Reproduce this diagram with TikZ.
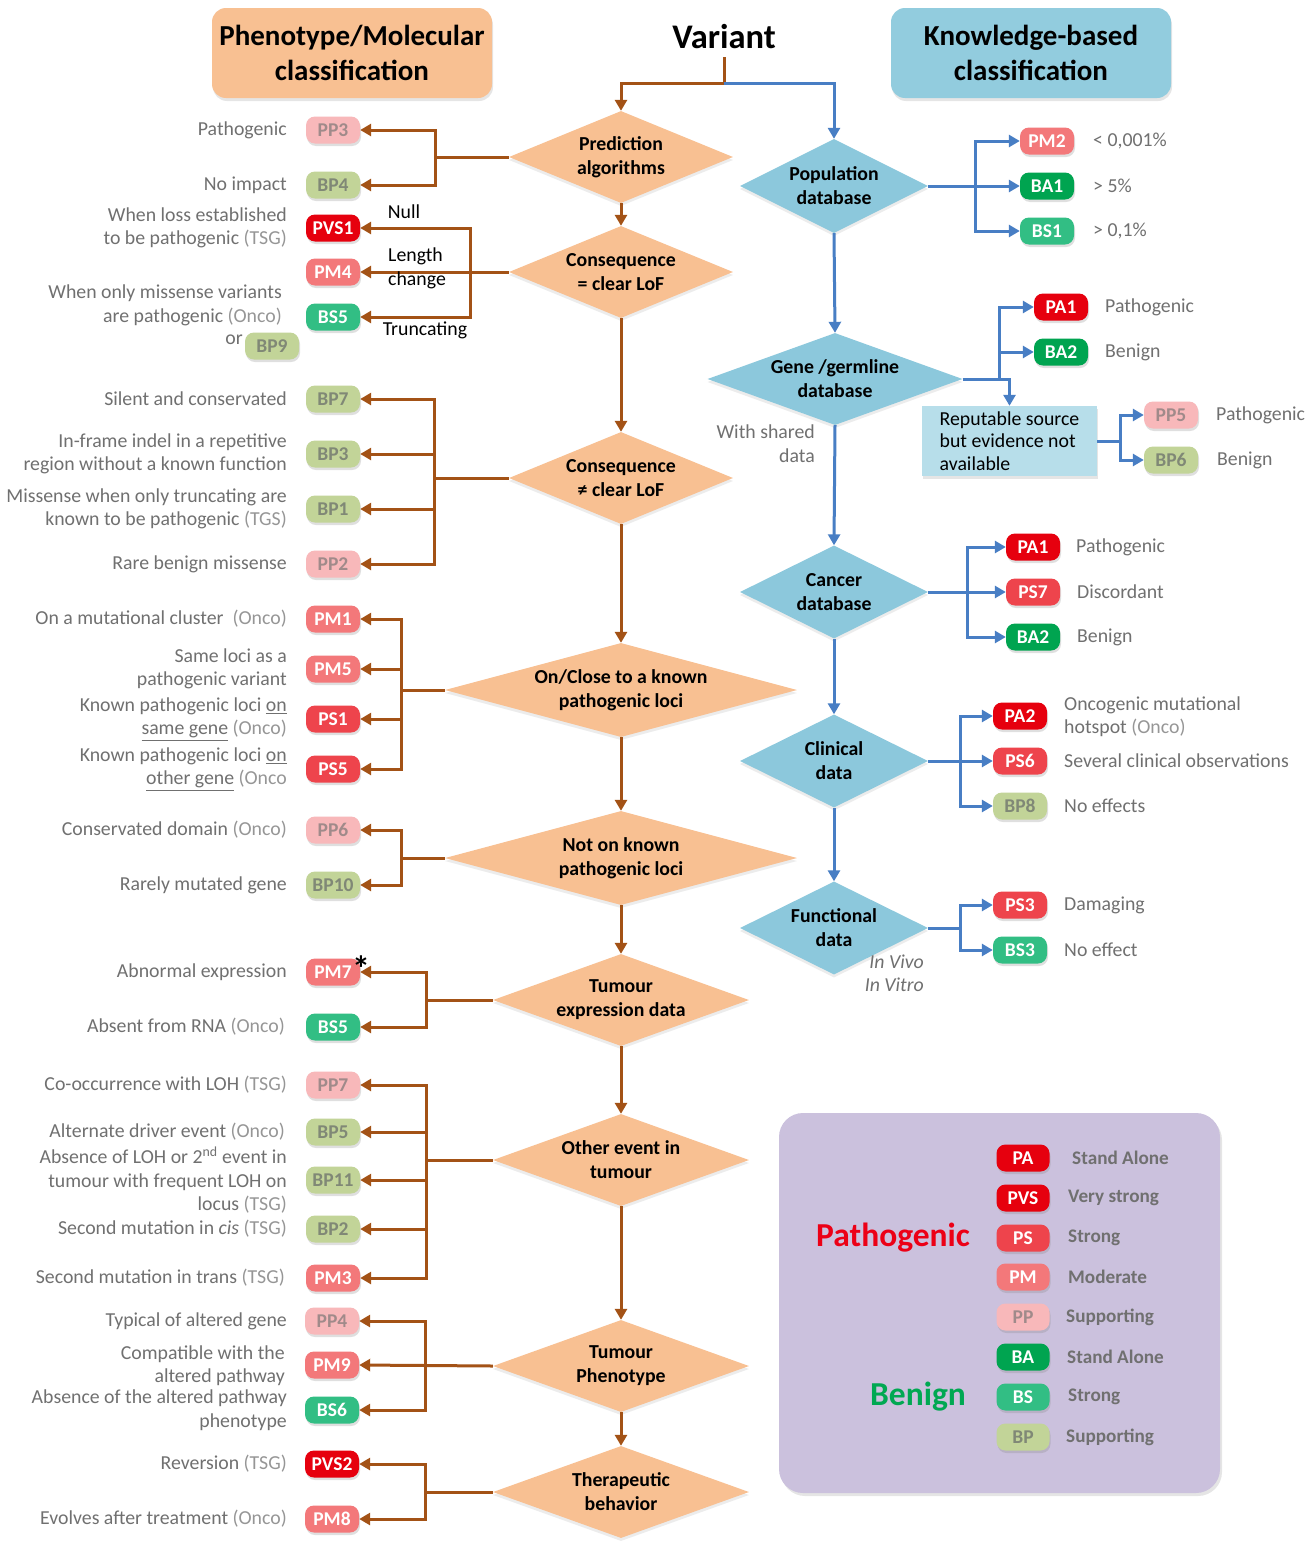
\documentclass[tikz,border=0pt]{standalone}
\usepackage{fontspec}
\setmainfont{Carlito}
\usetikzlibrary{shapes.geometric,arrows.meta,shadows}
\definecolor{orf}{RGB}{248,192,146}
\definecolor{orh}{RGB}{248,192,146}
\definecolor{brn}{RGB}{163,82,22}
\definecolor{blf}{RGB}{140,200,220}
\definecolor{blh}{RGB}{146,204,222}
\definecolor{bln}{RGB}{72,126,196}
\definecolor{repf}{RGB}{183,222,234}
\definecolor{lav}{RGB}{203,193,221}
\definecolor{cPA}{RGB}{230,0,14}
\definecolor{cPS}{RGB}{238,68,76}
\definecolor{cPM}{RGB}{243,120,122}
\definecolor{cPP}{RGB}{248,184,186}
\definecolor{cBA}{RGB}{0,164,80}
\definecolor{cBS}{RGB}{50,190,132}
\definecolor{cBP}{RGB}{194,212,152}
\definecolor{txg}{RGB}{112,112,112}
\definecolor{txl}{RGB}{150,150,150}
\definecolor{tpp}{RGB}{160,138,138}
\definecolor{tbp}{RGB}{128,136,118}
\definecolor{pgred}{RGB}{236,0,22}
\definecolor{bngreen}{RGB}{0,168,82}
\newcommand\lgt[1]{\textcolor{txl}{#1}}
\begin{document}
\begin{tikzpicture}[x=1pt,y=-1pt,
  lt/.style={font=\fontsize{19.8}{23.5}\selectfont, text=txg, anchor=east, align=right, inner sep=0pt},
  rt/.style={font=\fontsize{19.8}{23}\selectfont, text=txg, anchor=west, align=left, inner sep=0pt},
  badge/.style={rounded corners=9pt, minimum width=54pt, minimum height=27pt, inner sep=0pt,
     font=\bfseries\fontsize{19.5}{20}\selectfont, text=white,
     drop shadow={shadow xshift=1pt, shadow yshift=-2.5pt, opacity=0.25}},
  bPA/.style={badge, fill=cPA},
  bPS/.style={badge, fill=cPS},
  bPM/.style={badge, fill=cPM},
  bPP/.style={badge, fill=cPP, text=tpp},
  bBA/.style={badge, fill=cBA},
  bBS/.style={badge, fill=cBS},
  bBP/.style={badge, fill=cBP, text=tbp},
  odiam/.style={diamond, fill=orf, inner sep=0pt, drop shadow={shadow xshift=0pt, shadow yshift=-3pt, opacity=0.15}},
  bdiam/.style={diamond, fill=blf, inner sep=0pt, drop shadow={shadow xshift=0pt, shadow yshift=-3pt, opacity=0.15}},
  dtext/.style={font=\bfseries\fontsize{19.8}{24}\selectfont, align=center, inner sep=0pt},
  brl/.style={draw=brn, line width=3pt},
  bra/.style={brl, -{Triangle[length=11pt,width=12pt]}},
  bll/.style={draw=bln, line width=3pt},
  bla/.style={bll, -{Triangle[length=11pt,width=12pt]}},
  hdr/.style={rounded corners=14pt, minimum width=280pt, minimum height=90pt, inner sep=0pt, align=center,
     font=\bfseries\fontsize{29}{35}\selectfont, drop shadow={shadow xshift=1pt, shadow yshift=-3pt, opacity=0.2}},
]
\useasboundingbox (0,0) rectangle (1316,1542);
\fill[white] (0,0) rectangle (1316,1542);

% ---------- headers ----------
\node[hdr, fill=orh] (h1) at (352,53) {Phenotype/Molecular\\classification};
\node[hdr, fill=blh] (h2) at (1031,53) {Knowledge-based\\classification};
\node[font=\bfseries\fontsize{34.5}{40}\selectfont, inner sep=0pt, minimum height=40pt] (var) at (724,37) {Variant};
\coordinate (vj) at (724,83);

% ---------- orange diamonds ----------
\node[odiam, minimum width=224pt, minimum height=92pt] (d1) at (621,157) {};
\node[dtext] (d1t) at (d1) {Prediction\\algorithms};
\node[odiam, minimum width=224pt, minimum height=92pt] (d2) at (621,272) {};
\node[dtext] (d2t) at (d2) {Consequence\\= clear LoF};
\node[odiam, minimum width=224pt, minimum height=92pt] (d3) at (621,478) {};
\node[dtext] (d3t) at (d3) {Consequence\\≠ clear LoF};
\node[odiam, minimum width=352pt, minimum height=94pt] (d4) at (621,690) {};
\node[dtext] (d4t) at (d4) {On/Close to a known\\pathogenic loci};
\node[odiam, minimum width=352pt, minimum height=94pt] (d5) at (621,858) {};
\node[dtext] (d5t) at (d5) {Not on known\\pathogenic loci};
\node[odiam, minimum width=256pt, minimum height=92pt] (d6) at (621,1000) {};
\node[dtext] (d6t) at (d6) {Tumour\\expression data};
\node[odiam, minimum width=256pt, minimum height=92pt] (d7) at (621,1160) {};
\node[dtext] (d7t) at (d7) {Other event in\\tumour};
\node[odiam, minimum width=256pt, minimum height=92pt] (d8) at (621,1366) {};
\node[dtext] (d8t) at (d8) {Tumour\\Phenotype};
\node[odiam, minimum width=256pt, minimum height=92pt] (d9) at (621,1492) {};
\node[dtext] (d9t) at (d9) {Therapeutic\\behavior};

% ---------- blue diamonds ----------
\node[bdiam, minimum width=188pt, minimum height=94pt] (p1) at (834,186) {};
\node[dtext] (p1t) at (p1) {Population\\database};
\node[bdiam, minimum width=255pt, minimum height=92pt] (p2) at (835,379) {};
\node[dtext] (p2t) at (p2) {Gene /germline\\database};
\node[bdiam, minimum width=188pt, minimum height=93pt] (p3) at (834,592) {};
\node[dtext] (p3t) at (p3) {Cancer\\database};
\node[bdiam, minimum width=188pt, minimum height=93pt] (p4) at (834,761) {};
\node[dtext] (p4t) at (p4) {Clinical\\data};
\node[bdiam, minimum width=188pt, minimum height=93pt] (p5) at (834,928) {};
\node[dtext] (p5t) at (p5) {Functional\\data};

% ---------- main flow ----------
\draw[brl] (var.south) -- (vj);
\draw[bra] (vj) -| (d1.north);
\draw[bla] (vj) -| (p1.north);
\draw[bra] (d1.south) -- (d2.north);
\draw[bra] (d2.south) -- (d3.north);
\draw[bra] (d3.south) -- (d4.north);
\draw[bra] (d4.south) -- (d5.north);
\draw[bra] (d5.south) -- (d6.north);
\draw[bra] (d6.south) -- (d7.north);
\draw[bra] (d7.south) -- (d8.north);
\draw[bra] (d8.south) -- (d9.north);
\draw[bla] (p1.south) -- (p2.north);
\draw[bla] (p2.south) -- (p3.north);
\draw[bla] (p3.south) -- (p4.north);
\draw[bla] (p4.south) -- (p5.north);

% ---------- left badges ----------
\node[bPP] (pp3) at (333,130) {PP3};
\node[bBP] (bp4) at (333,185) {BP4};
\node[bPA] (pvs1) at (333,228) {PVS1};
\node[bPM] (pm4) at (333,272) {PM4};
\node[bBS] (bs5a) at (333,317) {BS5};
\node[bBP] (bp9) at (272,346) {BP9};
\node[bBP] (bp7) at (333,399) {BP7};
\node[bBP] (bp3) at (333,454) {BP3};
\node[bBP] (bp1) at (333,509) {BP1};
\node[bPP] (pp2) at (333,564) {PP2};
\node[bPM] (pm1) at (333,619) {PM1};
\node[bPM] (pm5) at (333,669) {PM5};
\node[bPS] (ps1) at (333,719) {PS1};
\node[bPS] (ps5) at (333,769) {PS5};
\node[bPP] (pp6) at (333,830) {PP6};
\node[bBP] (bp10) at (333,885) {BP10};
\node[bPM] (pm7) at (333,972) {PM7};
\node[bBS] (bs5b) at (333,1027) {BS5};
\node[bPP] (pp7) at (333,1085) {PP7};
\node[bBP] (bp5) at (333,1132) {BP5};
\node[bBP] (bp11) at (333,1180) {BP11};
\node[bBP] (bp2) at (333,1229) {BP2};
\node[bPM] (pm3) at (333,1278) {PM3};
\node[bPP] (pp4) at (332,1321) {PP4};
\node[bPM] (pm9) at (332,1365) {PM9};
\node[bBS] (bs6) at (332,1410) {BS6};
\node[bPA] (pvs2) at (332,1464) {PVS2};
\node[bPM] (pm8) at (332,1519) {PM8};
\node[font=\bfseries\fontsize{36}{36}\selectfont, inner sep=0pt] (ast) at (361,969) {*};

% ---------- left connectors ----------
\coordinate (j1) at (435,157);
\draw[brl] (d1.west) -- (j1);
\draw[bra] (j1) |- (pp3.east);
\draw[bra] (j1) |- (bp4.east);

\coordinate (j2) at (470,272);
\draw[bra] (d2.west) -- (pm4.east);
\draw[bra] (j2) |- (pvs1.east);
\draw[bra] (j2) |- (bs5a.east);

\coordinate (j3) at (434,478);
\draw[brl] (d3.west) -- (j3);
\foreach \b in {bp7,bp3,bp1,pp2} \draw[bra] (j3) |- (\b.east);

\coordinate (j4) at (401,690);
\draw[brl] (d4.west) -- (j4);
\foreach \b in {pm1,pm5,ps1,ps5} \draw[bra] (j4) |- (\b.east);

\coordinate (j5) at (401,858);
\draw[brl] (d5.west) -- (j5);
\foreach \b in {pp6,bp10} \draw[bra] (j5) |- (\b.east);

\coordinate (j6) at (426,1000);
\draw[brl] (d6.west) -- (j6);
\foreach \b in {pm7,bs5b} \draw[bra] (j6) |- (\b.east);

\coordinate (j7) at (426,1160);
\draw[brl] (d7.west) -- (j7);
\foreach \b in {pp7,bp5,bp11,bp2,pm3} \draw[bra] (j7) |- (\b.east);

\coordinate (j8) at (425,1366);
\draw[bra] (d8.west) -- (pm9.east);
\foreach \b in {pp4,bs6} \draw[bra] (j8) |- (\b.east);

\coordinate (j9) at (425,1492);
\draw[brl] (d9.west) -- (j9);
\foreach \b in {pvs2,pm8} \draw[bra] (j9) |- (\b.east);

% connector labels
\node[font=\fontsize{19.8}{23}\selectfont, inner sep=0pt] (lnull) at (404,212) {Null};
\node[font=\fontsize{19.8}{24.5}\selectfont, align=left, anchor=west, inner sep=0pt] (llen) at (388,268.5) {Length\\change};
\node[font=\fontsize{19.8}{23}\selectfont, inner sep=0pt] (ltrunc) at (425,330) {Truncating};

% ---------- left texts ----------
\node[lt] (t1) at (287,130) {Pathogenic};
\node[lt] (t2) at (287,185) {No impact};
\node[lt] (t3) at (287,228) {When loss established\\to be pathogenic \lgt{(TSG)}};
\node[lt] (t4) at (282,305.5) {When only missense variants\\are pathogenic \lgt{(Onco)}};
\node[lt] (t5) at (243,340) {or};
\node[lt] (t6) at (287,399) {Silent and conservated};
\node[lt] (t7) at (287,454) {In-frame indel in a repetitive\\region without a known function};
\node[lt] (t8) at (287,509) {Missense when only truncating are\\known to be pathogenic \lgt{(TGS)}};
\node[lt] (t9) at (287,564) {Rare benign missense};
\node[lt] (t10) at (287,619) {On a mutational cluster\ \ \lgt{(Onco)}};
\node[lt] (t11) at (287,669) {Same loci as a\\pathogenic variant};
\node[lt] (t12) at (287,719) {Known pathogenic loci \underline{on}\\\underline{same gene} \lgt{(Onco)}};
\node[lt] (t13) at (287,769) {Known pathogenic loci \underline{on}\\\underline{other gene} \lgt{(Onco}};
\node[lt] (t14) at (287,830) {Conservated domain \lgt{(Onco)}};
\node[lt] (t15) at (287,885) {Rarely mutated gene};
\node[lt] (t16) at (287,972) {Abnormal expression};
\node[lt] (t17) at (285,1027) {Absent from RNA \lgt{(Onco)}};
\node[lt] (t18) at (287,1085) {Co-occurrence with LOH \lgt{(TSG)}};
\node[lt] (t19) at (285,1132) {Alternate driver event \lgt{(Onco)}};
\node[lt] (t20) at (287,1180) {Absence of LOH or 2\textsuperscript{nd} event in\\tumour with frequent LOH on\\locus \lgt{(TSG)}};
\node[lt] (t21) at (287,1229) {Second mutation in \textit{cis} \lgt{(TSG)}};
\node[lt] (t22) at (285,1278) {Second mutation in trans \lgt{(TSG)}};
\node[lt] (t23) at (287,1321) {Typical of altered gene};
\node[lt] (t24) at (285,1365.5) {Compatible with the\\altered pathway};
\node[lt] (t25) at (287,1410) {Absence of the altered pathway\\phenotype};
\node[lt] (t26) at (287,1464) {Reversion \lgt{(TSG)}};
\node[lt] (t27) at (287,1519) {Evolves after treatment \lgt{(Onco)}};

% ---------- right side ----------
% population
\node[bPM] (pm2) at (1047,141) {PM2};
\node[bBA] (ba1) at (1047,186) {BA1};
\node[bBS] (bs1) at (1047,231) {BS1};
\coordinate (j10) at (975,186);
\draw[bll] (p1.east) -- (j10);
\foreach \b in {pm2,ba1,bs1} \draw[bla] (j10) |- (\b.west);
\node[rt] (r1) at (1093,141) {< 0,001\%};
\node[rt] (r2) at (1093,186) {> 5\%};
\node[rt] (r3) at (1093,231) {> 0,1\%};

% gene / germline
\node[bPA] (pa1a) at (1061,307) {PA1};
\node[bBA] (ba2a) at (1061,352) {BA2};
\node[fill=repf, minimum width=175pt, minimum height=70pt, inner sep=0pt, align=left,
      font=\fontsize{19.8}{22.5}\selectfont, drop shadow={shadow xshift=1pt, shadow yshift=-2.5pt, opacity=0.2}]
      (rep) at (1009.5,441) {Reputable source\\but evidence not\\available};
\coordinate (j11) at (999,379);
\draw[bla] (p2.east) -| (rep.north);
\foreach \b in {pa1a,ba2a} \draw[bla] (j11) |- (\b.west);
\node[rt] (r4) at (1105,307) {Pathogenic};
\node[rt] (r5) at (1105,352) {Benign};
\node[bPP] (pp5) at (1171,415) {PP5};
\node[bBP] (bp6) at (1171,460) {BP6};
\coordinate (j12) at (1120,441);
\draw[bll] (rep.east) -- (j12);
\foreach \b in {pp5,bp6} \draw[bla] (j12) |- (\b.west);
\node[rt] (r6) at (1216,415) {Pathogenic};
\node[rt] (r7) at (1217,460) {Benign};
\node[lt] (r8) at (815,443.5) {With shared\\data};

% cancer
\node[bPA] (pa1b) at (1033,547) {PA1};
\node[bPS] (ps7) at (1033,592) {PS7};
\node[bBA] (ba2b) at (1033,637) {BA2};
\coordinate (j13) at (967,592);
\draw[bll] (p3.east) -- (j13);
\foreach \b in {pa1b,ps7,ba2b} \draw[bla] (j13) |- (\b.west);
\node[rt] (r9) at (1076,547) {Pathogenic};
\node[rt] (r10) at (1077,592) {Discordant};
\node[rt] (r11) at (1077,637) {Benign};

% clinical
\node[bPA] (pa2) at (1020,716) {PA2};
\node[bPS] (ps6) at (1020,761) {PS6};
\node[bBP] (bp8) at (1020,806) {BP8};
\coordinate (j14) at (960,761);
\draw[bll] (p4.east) -- (j14);
\foreach \b in {pa2,ps6,bp8} \draw[bla] (j14) |- (\b.west);
\node[rt] (r12) at (1064,716.5) {Oncogenic mutational\\hotspot \lgt{(Onco)}};
\node[rt] (r13) at (1064,761) {Several clinical observations};
\node[rt] (r14) at (1064,806) {No effects};

% functional
\node[bPS] (ps3) at (1020,905) {PS3};
\node[bBS] (bs3) at (1020,950) {BS3};
\coordinate (j15) at (960,928);
\draw[bll] (p5.east) -- (j15);
\foreach \b in {ps3,bs3} \draw[bla] (j15) |- (\b.west);
\node[rt] (r15) at (1064,905) {Damaging};
\node[rt] (r16) at (1064,950) {No effect};
\node[lt, font=\itshape\fontsize{19.8}{23}\selectfont] (r17) at (924,973) {In Vivo\\In Vitro};

% ---------- legend ----------
\node[fill=lav, rounded corners=24pt, minimum width=441pt, minimum height=380pt, inner sep=0pt,
      drop shadow={shadow xshift=2pt, shadow yshift=-3pt, opacity=0.2}] (leg) at (999.5,1303) {};
\node[font=\bfseries\fontsize{33.5}{38}\selectfont, text=pgred, inner sep=0pt] (lgp) at (893,1238) {Pathogenic};
\node[font=\bfseries\fontsize{33.5}{38}\selectfont, text=bngreen, inner sep=0pt] (lgb) at (918,1397) {Benign};
\node[bPA, minimum width=53pt] (lPA) at (1023,1158) {PA};
\node[bPA, minimum width=53pt] (lPVS) at (1023,1198) {PVS};
\node[bPS, minimum width=53pt] (lPS) at (1023,1238) {PS};
\node[bPM, minimum width=53pt] (lPM) at (1023,1277) {PM};
\node[bPP, minimum width=53pt] (lPP) at (1023,1317) {PP};
\node[bBA, minimum width=53pt] (lBA) at (1023,1357) {BA};
\node[bBS, minimum width=53pt] (lBS) at (1023,1397) {BS};
\node[bBP, minimum width=53pt] (lBP) at (1023,1437) {BP};
\tikzset{lgl/.style={rt, font=\bfseries\fontsize{19.2}{22}\selectfont}}
\node[lgl] (g1) at (1072,1158) {Stand Alone};
\node[lgl] (g2) at (1068,1198) {Very strong};
\node[lgl] (g3) at (1068,1238) {Strong};
\node[lgl] (g4) at (1068,1277) {Moderate};
\node[lgl] (g5) at (1066,1317) {Supporting};
\node[lgl] (g6) at (1067,1357) {Stand Alone};
\node[lgl] (g7) at (1068,1397) {Strong};
\node[lgl] (g8) at (1066,1437) {Supporting};
\end{tikzpicture}
\end{document}
